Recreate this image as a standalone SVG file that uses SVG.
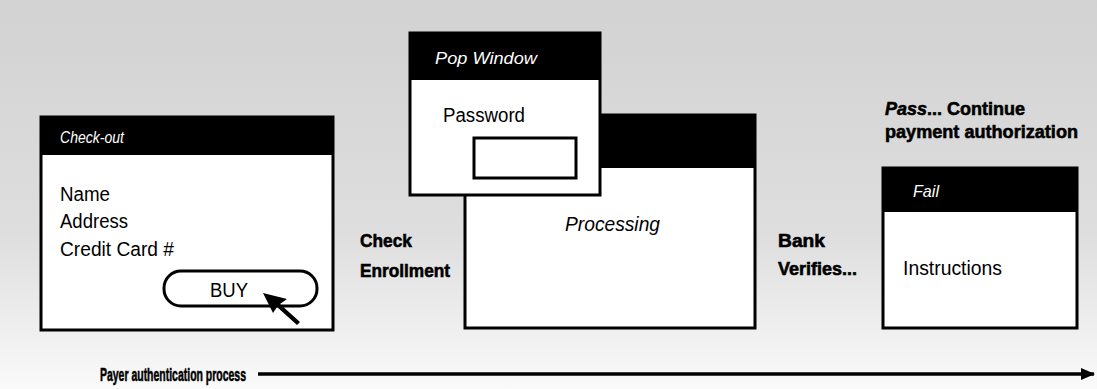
<svg xmlns="http://www.w3.org/2000/svg" width="1097" height="389" viewBox="0 0 1097 389">
<defs>
<linearGradient id="bg" x1="0" y1="0" x2="0" y2="1">
<stop offset="0" stop-color="#d2d2d2"/>
<stop offset="0.6" stop-color="#dedede"/>
<stop offset="0.85" stop-color="#efefef"/>
<stop offset="1" stop-color="#fafafa"/>
</linearGradient>
<marker id="ah" viewBox="0 0 14 12" refX="13" refY="6" markerWidth="14" markerHeight="12" orient="auto" markerUnits="userSpaceOnUse">
<path d="M0,0 L14,6 L0,12 z" fill="#000"/>
</marker>
</defs>
<style>
.win{fill:#fff;stroke:#000;stroke-width:3}
.bar{fill:#000}
.title{font-family:"Liberation Sans",Arial,sans-serif;font-style:italic;font-size:17px;fill:#fff}
.txt{font-family:"Liberation Sans",Arial,sans-serif;font-size:20px;fill:#000}
.lbl{font-family:"Liberation Sans",Arial,sans-serif;font-weight:bold;font-size:19px;fill:#000;stroke:#000;stroke-width:0.6}
</style>
<rect x="0" y="0" width="1097" height="389" fill="url(#bg)"/>

<g id="checkout">
<rect class="win" x="41" y="117" width="292" height="213"/>
<rect class="bar" x="41" y="117" width="292" height="38"/>
<text class="title" x="60" y="143" textLength="64" lengthAdjust="spacingAndGlyphs">Check-out</text>
<text class="txt" x="60" y="201" textLength="50" lengthAdjust="spacingAndGlyphs">Name</text>
<text class="txt" x="60" y="228" textLength="68" lengthAdjust="spacingAndGlyphs">Address</text>
<text class="txt" x="60" y="256" textLength="114" lengthAdjust="spacingAndGlyphs">Credit Card #</text>
<rect x="164" y="271" width="153" height="35" rx="17" ry="17" fill="#fff" stroke="#000" stroke-width="3"/>
<text class="txt" x="229" y="297" text-anchor="middle" textLength="38" lengthAdjust="spacingAndGlyphs">BUY</text>
<path d="M263,293 L287,299 L280,304 L300,322 L297,325 L277,307 L273,313 Z" fill="#000"/>
</g>

<g id="processing">
<rect class="win" x="465" y="115" width="290" height="213"/>
<rect class="bar" x="465" y="115" width="290" height="53"/>
<text class="txt" x="565" y="231" font-style="italic" textLength="95" lengthAdjust="spacingAndGlyphs">Processing</text>
</g>

<g id="popwindow">
<rect class="win" x="410" y="33" width="190" height="162"/>
<rect class="bar" x="410" y="33" width="190" height="47"/>
<text class="title" x="435" y="64" textLength="102" lengthAdjust="spacingAndGlyphs">Pop Window</text>
<text class="txt" x="443" y="122" textLength="82" lengthAdjust="spacingAndGlyphs">Password</text>
<rect x="474" y="138" width="102" height="40" fill="#fff" stroke="#000" stroke-width="3"/>
</g>

<g id="fail">
<rect class="win" x="883" y="168" width="194" height="160"/>
<rect class="bar" x="883" y="168" width="194" height="44"/>
<text class="title" x="913" y="197" textLength="26" lengthAdjust="spacingAndGlyphs">Fail</text>
<text class="txt" x="903" y="275" textLength="99" lengthAdjust="spacingAndGlyphs">Instructions</text>
</g>

<g id="check-enrollment">
<text class="lbl" x="360" y="247" textLength="52" lengthAdjust="spacingAndGlyphs">Check</text>
<text class="lbl" x="360" y="277" textLength="90" lengthAdjust="spacingAndGlyphs">Enrollment</text>
</g>

<g id="bank-verifies">
<text class="lbl" x="778" y="247" textLength="47" lengthAdjust="spacingAndGlyphs">Bank</text>
<text class="lbl" x="778" y="275" textLength="79" lengthAdjust="spacingAndGlyphs">Verifies...</text>
</g>

<g id="pass">
<text class="lbl" x="885" y="115" textLength="140" lengthAdjust="spacingAndGlyphs"><tspan font-style="italic">Pass</tspan>... Continue</text>
<text class="lbl" x="885" y="138" textLength="193" lengthAdjust="spacingAndGlyphs">payment authorization</text>
</g>

<g id="payer-label">
<text class="lbl" x="100" y="381" font-size="18" textLength="146" lengthAdjust="spacingAndGlyphs">Payer authentication process</text>
</g>

<g id="connectors">
<line x1="258" y1="374" x2="1094" y2="374" stroke="#000" stroke-width="3.5" marker-end="url(#ah)"/>
</g>
</svg>
